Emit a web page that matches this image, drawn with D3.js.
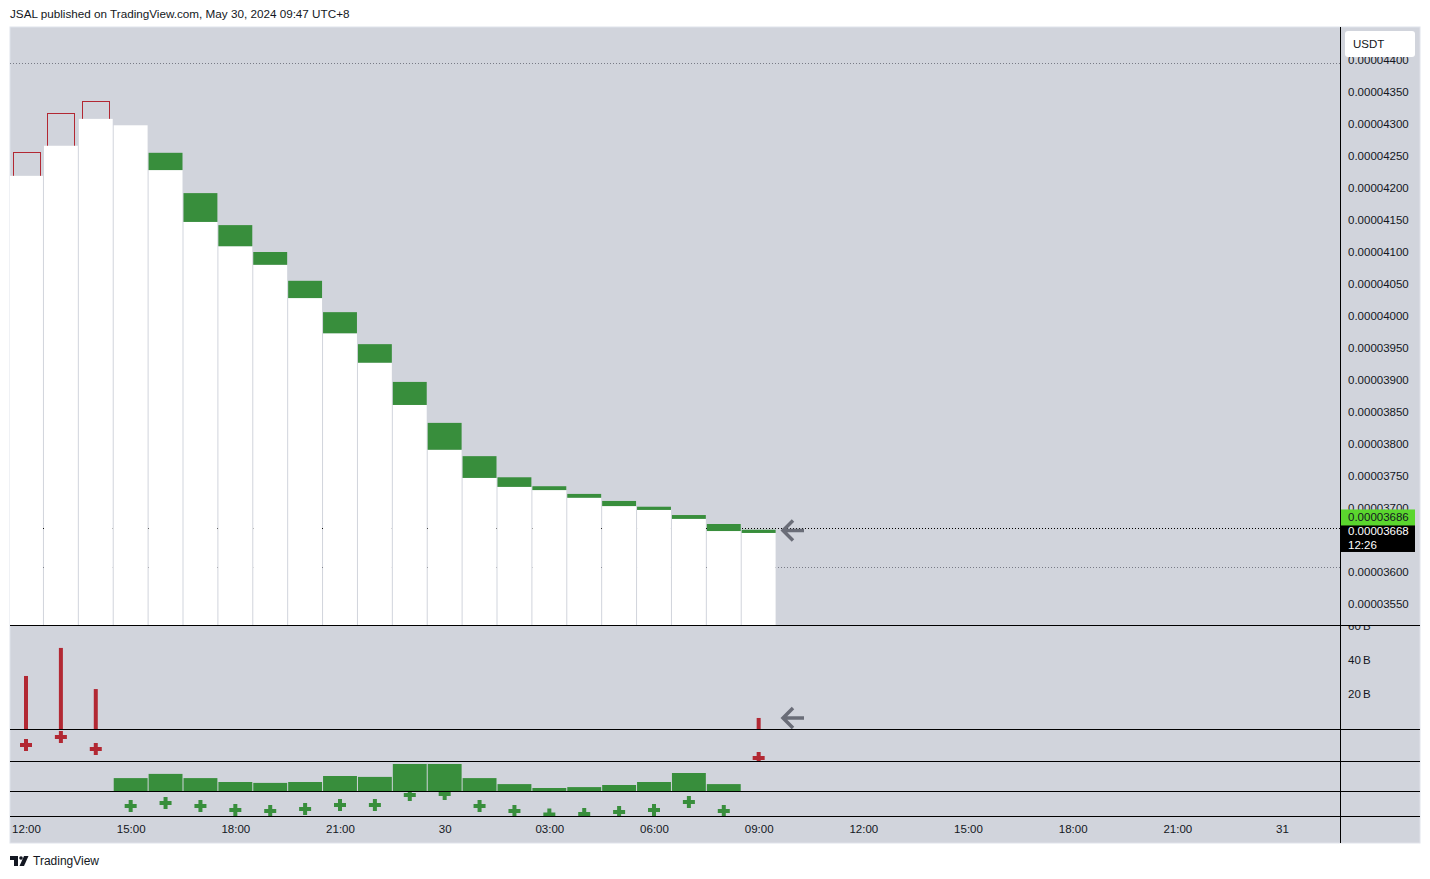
<!DOCTYPE html>
<html><head><meta charset="utf-8">
<script src="https://cdn.jsdelivr.net/npm/d3@7"></script>
<style>
html,body{margin:0;padding:0;background:#fff;}
svg{display:block;font-family:"Liberation Sans",Arial,sans-serif;}
</style></head>
<body>
<svg id="chart" width="1430" height="879"></svg>
<script>
// ---------- DATA ----------
const startHour = new Date(2024, 4, 29, 12, 0);   // first candle: May 29 12:00
const boxTop = [0.00004256,0.00004317,0.00004336,0.00004298,0.00004255,0.00004192,0.00004142,0.00004100,0.00004055,0.00004006,0.00003956,0.00003897,0.00003833,0.00003781,0.00003748,0.00003734,0.00003722,0.00003711,0.00003702,0.00003689,0.00003675,0.00003666];
const boxBottom = [0.00004219,0.00004266,0.00004308,0.00004298,0.00004228,0.00004147,0.00004109,0.00004080,0.00004028,0.00003973,0.00003927,0.00003861,0.00003791,0.00003747,0.00003733,0.00003728,0.00003716,0.00003703,0.00003697,0.00003683,0.00003664,0.00003661];
const boxKind = ["red","red","red","green","green","green","green","green","green","green","green","green","green","green","green","green","green","green","green","green","green","green"];
const redVolume = [30.6e9,47.1e9,22.9e9,null,null,null,null,null,null,null,null,null,null,null,null,null,null,null,null,null,null,5.9e9];
const redMarker = [50,75,37.5,null,null,null,null,null,null,null,null,null,null,null,null,null,null,null,null,null,null,9];
const greenBars = [null,null,null,43,57,43,30,27,30,50,47,90,90,43,23,10,13,20,30,60,23,null];
const greenMarker = [null,null,null,40,52,40,24,20,28,44,44,84,88,40,20,6,8,16,24,56,20,null];
const priceTicks = [0.0000355,0.000036,0.0000365,0.000037,0.0000375,0.000038,0.0000385,0.000039,0.0000395,0.00004,0.0000405,0.000041,0.0000415,0.000042,0.0000425,0.000043,0.0000435,0.000044];
const volumeTicks = [20e9,40e9,60e9];
const highLine = 0.00004395, lowLine = 0.00003608;
const lastPrice = 0.00003668, markPrice = 0.00003686;
const countdown = "12:26";
const headerText = "JSAL published on TradingView.com, May 30, 2024 09:47 UTC+8";

// ---------- LAYOUT ----------
const svg = d3.select("#chart");
const L = 10, R = 1340, RR = 1420, T = 27, B = 843;
const P1 = [T, 625], P2 = [625, 729], P3 = [729, 761], P4 = [761, 791], P5 = [791, 816];
const txt = "#131722", green = "#388e3c", red = "#b22833", bg = "#d1d4dc";

const x = d3.scaleTime().domain([startHour, new Date(2024, 4, 31, 0, 0)]).range([26, 1282]);
const xAxisScale = x.copy().domain([x.invert(L), x.invert(R)]).range([L, R]);
const step = x(d3.timeHour.offset(startHour, 1)) - x(startHour);
const times = boxTop.map((_, i) => d3.timeHour.offset(startHour, i));

const y = d3.scaleLinear().domain([0.0000355, 0.0000435]).range([604, 92]);
const yVol = d3.scaleLinear().domain([0, 60e9]).range([728, 626]);
const y3 = d3.scaleLinear().domain([0, 100]).range([P3[1], P3[0]]);
const y4 = d3.scaleLinear().domain([0, 100]).range([P4[1], P4[0]]);
const y5 = d3.scaleLinear().domain([0, 100]).range([P5[1], P5[0]]);

// header
svg.append("text").attr("x", 10).attr("y", 18).attr("font-size", 11.7).attr("fill", txt).text(headerText);

// chart background
svg.append("rect").attr("x", L).attr("y", T).attr("width", RR - L).attr("height", B - T)
  .attr("fill", bg).attr("stroke", "#e0e3eb").attr("stroke-width", 1);

const defs = svg.append("defs");
function clip(id, y0, y1) {
  defs.append("clipPath").attr("id", id).append("rect").attr("x", L).attr("y", y0).attr("width", R - L).attr("height", y1 - y0);
}
clip("c1", P1[0], P1[1]); clip("c2", P2[0], P2[1]); clip("c3", P3[0], P3[1]); clip("c4", P4[0], P4[1]); clip("c5", P5[0], P5[1]);

// main pane
const g1 = svg.append("g").attr("clip-path", "url(#c1)");
function dotted(g, val, color) {
  g.append("line").attr("x1", L).attr("x2", R).attr("y1", Math.round(y(val)) + 0.5).attr("y2", Math.round(y(val)) + 0.5)
    .attr("stroke", color).attr("stroke-width", 1).attr("stroke-dasharray", "1 2");
}
dotted(g1, highLine, "#787b86");
dotted(g1, lowLine, "#787b86");
dotted(g1, lastPrice, "#000");

// hollow red boxes (drawn under the white columns so their bottom edge is hidden)
times.forEach((d, i) => {
  if (boxKind[i] !== "red") return;
  const yt = y(boxTop[i]), yb = y(boxBottom[i]);
  const w = 27;
  g1.append("rect").attr("x", Math.round(x(d) - w / 2) + 0.5).attr("y", Math.round(yt) + 0.5)
    .attr("width", w).attr("height", Math.round(yb) - Math.round(yt))
    .attr("fill", "none").attr("stroke", red).attr("stroke-width", 1);
});

// white columns
g1.selectAll("rect.col").data(times).join("rect").attr("class", "col")
  .attr("x", (d) => x(d) - step / 2 + 0.5).attr("width", step - 1)
  .attr("y", (d, i) => y(Math.min(boxTop[i], boxBottom[i])))
  .attr("height", (d, i) => P1[1] - y(Math.min(boxTop[i], boxBottom[i])))
  .attr("fill", "#fff");

// green boxes
times.forEach((d, i) => {
  if (boxKind[i] !== "green") return;
  const yt = y(boxTop[i]), yb = y(boxBottom[i]);
  if (yb - yt < 0.5) return;
  g1.append("rect").attr("x", x(d) - step / 2 + 0.5).attr("width", step - 1)
    .attr("y", yt).attr("height", yb - yt).attr("fill", green);
});

function arrow(cx, cy) {
  svg.append("path").attr("d", `M${cx + 12},${cy} H${cx - 9} M${cx + 1},${cy - 10} L${cx - 9},${cy} L${cx + 1},${cy + 10}`)
    .attr("fill", "none").attr("stroke", "#6a6d78").attr("stroke-width", 3.5);
}
arrow(792, y(lastPrice) + 2);

// pane 2: red volume
const g2 = svg.append("g").attr("clip-path", "url(#c2)");
g2.selectAll("rect").data(times.map((d, i) => ({ d, v: redVolume[i] })).filter((o) => o.v != null)).join("rect")
  .attr("x", (o) => x(o.d) - 2).attr("width", 4)
  .attr("y", (o) => yVol(o.v)).attr("height", (o) => P2[1] - yVol(o.v)).attr("fill", red);
arrow(792, 718);

// pane 3: red markers
const cross = d3.symbol(d3.symbolCross, 80);
const g3 = svg.append("g").attr("clip-path", "url(#c3)");
g3.selectAll("path").data(times.map((d, i) => ({ d, v: redMarker[i] })).filter((o) => o.v != null)).join("path")
  .attr("d", cross).attr("transform", (o) => `translate(${x(o.d)},${y3(o.v)})`).attr("fill", red);

// pane 4: green bars
const g4 = svg.append("g").attr("clip-path", "url(#c4)");
g4.selectAll("rect").data(times.map((d, i) => ({ d, v: greenBars[i] })).filter((o) => o.v != null)).join("rect")
  .attr("x", (o) => x(o.d) - step / 2 + 0.5).attr("width", step - 1)
  .attr("y", (o) => y4(o.v)).attr("height", (o) => P4[1] - y4(o.v)).attr("fill", green);

// pane 5: green markers
const g5 = svg.append("g").attr("clip-path", "url(#c5)");
g5.selectAll("path").data(times.map((d, i) => ({ d, v: greenMarker[i] })).filter((o) => o.v != null)).join("path")
  .attr("d", cross).attr("transform", (o) => `translate(${x(o.d)},${y5(o.v)})`).attr("fill", green);

// separators
[P1[1], P2[1], P3[1], P4[1], P5[1]].forEach((yy) => {
  svg.append("line").attr("x1", L).attr("x2", RR).attr("y1", yy + 0.5).attr("y2", yy + 0.5).attr("stroke", "#000");
});
svg.append("line").attr("x1", R + 0.5).attr("x2", R + 0.5).attr("y1", T).attr("y2", B).attr("stroke", "#000");

// price axis
const yl = y(lastPrice), ym = y(markPrice);
const pa = svg.append("g");
defs.append("clipPath").attr("id", "cpa").append("rect").attr("x", R + 1).attr("y", T).attr("width", RR - R - 1).attr("height", P1[1] - T);
pa.attr("clip-path", "url(#cpa)");
// ticks fully hidden by the last-price label are not drawn
pa.selectAll("text").data(priceTicks.filter((d) => !(y(d) > yl - 3.5 && y(d) < yl + 23.5))).join("text")
  .attr("x", 1348).attr("y", (d) => y(d)).attr("dy", "0.35em").attr("font-size", 11.5).attr("fill", txt)
  .text((d) => d.toFixed(8));
// USDT box
pa.append("rect").attr("x", 1345).attr("y", 31).attr("width", 70).attr("height", 26).attr("rx", 3).attr("fill", "#fff");
pa.append("text").attr("x", 1353).attr("y", 44).attr("dy", "0.35em").attr("font-size", 11.5).attr("fill", txt).text("USDT");
// last price label (black)
pa.append("rect").attr("x", R + 1).attr("y", yl - 3.5).attr("width", 74).attr("height", 27).attr("fill", "#000");
pa.append("text").attr("x", 1348).attr("y", yl + 2.5).attr("dy", "0.35em").attr("font-size", 11.5).attr("fill", "#fff").text(lastPrice.toFixed(8));
pa.append("text").attr("x", 1348).attr("y", yl + 16).attr("dy", "0.35em").attr("font-size", 11.5).attr("fill", "#fff").text(countdown);
// mark price label (green)
pa.append("rect").attr("x", R + 1).attr("y", ym - 7.5).attr("width", 74).attr("height", 16).attr("fill", "#5bd62e");
pa.append("text").attr("x", 1348).attr("y", ym + 0.5).attr("dy", "0.35em").attr("font-size", 11.5).attr("fill", txt).text(markPrice.toFixed(8));

// volume axis
defs.append("clipPath").attr("id", "cva").append("rect").attr("x", R + 1).attr("y", P2[0] + 1).attr("width", RR - R - 1).attr("height", P2[1] - P2[0] - 1);
svg.append("g").attr("clip-path", "url(#cva)").selectAll("text").data(volumeTicks).join("text")
  .attr("x", 1348).attr("y", (d) => yVol(d)).attr("dy", "0.35em").attr("font-size", 11.5).attr("fill", txt)
  .text((d) => (d / 1e9) + "\u2009B");

// time axis
const fmt = (d) => d.getHours() === 0 ? d3.timeFormat("%-d")(d) : d3.timeFormat("%H:%M")(d);
const xa = svg.append("g").attr("transform", `translate(0,${P5[1] + 7})`)
  .call(d3.axisBottom(xAxisScale).ticks(d3.timeHour.every(3)).tickFormat(fmt).tickSize(0).tickPadding(0));
xa.select(".domain").remove();
xa.selectAll("text").attr("font-size", 11.5).attr("fill", txt).attr("font-family", "Liberation Sans, Arial, sans-serif").attr("dy", "0.85em");

// footer logo
const lg = svg.append("g").attr("fill", txt);
lg.append("path").attr("d", "M10,856 h8 v10 h-4 v-6 h-4 z");
lg.append("circle").attr("cx", 21).attr("cy", 858).attr("r", 1.8);
lg.append("path").attr("d", "M24,856 h4.5 l-4.5,10 h-4.5 z");
svg.append("text").attr("x", 33).attr("y", 865).attr("font-size", 12).attr("fill", txt).text("TradingView");
</script>
</body></html>
